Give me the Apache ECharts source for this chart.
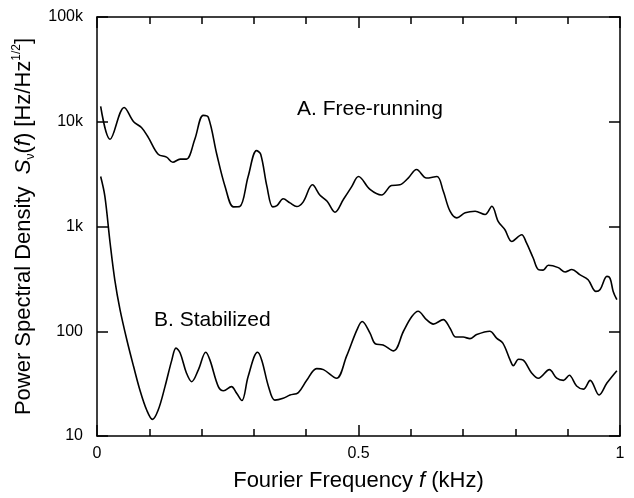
<!DOCTYPE html>
<html>
<head>
<meta charset="utf-8">
<script src="https://cdn.jsdelivr.net/npm/echarts@6/dist/echarts.min.js"></script>
<style>html,body{margin:0;padding:0;background:#fff;}#c{width:634px;height:498px;}</style>
</head>
<body>
<div id="c"></div>
<script>
var freqA = [0.007,0.025,0.052,0.070,0.085,0.098,0.117,0.133,0.145,0.159,0.171,0.187,0.203,0.213,0.229,0.245,0.261,0.273,0.289,0.305,0.313,0.325,0.336,0.344,0.356,0.369,0.382,0.394,0.412,0.426,0.440,0.455,0.471,0.487,0.500,0.522,0.544,0.563,0.579,0.595,0.611,0.630,0.650,0.662,0.675,0.688,0.704,0.723,0.742,0.755,0.767,0.780,0.793,0.812,0.821,0.834,0.844,0.853,0.863,0.882,0.895,0.908,0.923,0.939,0.954,0.962,0.975,0.981,0.987,0.994];
var psdA = [14000,6800,13700,10000,8800,7100,4900,4600,4100,4400,4400,6800,11500,11000,4900,2400,1540,1550,3000,5300,4900,2400,1540,1580,1840,1680,1550,1710,2500,2000,1740,1370,1810,2400,3000,2260,2000,2460,2500,2900,3500,2900,3000,2180,1400,1210,1350,1400,1300,1560,1120,930,720,835,700,500,388,383,427,405,368,388,347,310,240,250,334,320,240,200];
var freqB = [0.007,0.015,0.025,0.034,0.044,0.057,0.070,0.082,0.095,0.106,0.117,0.130,0.143,0.151,0.159,0.171,0.181,0.194,0.208,0.216,0.232,0.242,0.257,0.267,0.277,0.289,0.307,0.315,0.328,0.340,0.356,0.369,0.385,0.401,0.420,0.433,0.458,0.477,0.497,0.507,0.522,0.532,0.547,0.567,0.586,0.602,0.614,0.630,0.643,0.662,0.675,0.686,0.700,0.713,0.726,0.751,0.764,0.776,0.790,0.796,0.806,0.815,0.831,0.844,0.865,0.879,0.892,0.903,0.917,0.930,0.943,0.960,0.975,0.994];
var psdB = [3000,1950,700,310,161,83,46,27.5,17.7,14.4,17.7,29.6,53,69,62,40,33,43,63,53,29.6,27,29.6,25.6,21.8,37,63,53,29.6,22,22.9,24.6,26,34,44,43,35.6,57.5,103,124,96,76,74,65,100,138,155,129,117,129,107,88,88,85,93,100,86,77,53,47,54,53,40,35.6,43,35.6,34,38,30,28,34,24.6,32,42];
var xTickLabels = {0: '0', 0.5: '0.5', 1: '1'};
var yTickLabels = {10: '10', 100: '100', 1000: '1k', 10000: '10k', 100000: '100k'};
var labelA = 'A. Free-running';
var labelB = 'B. Stabilized';

function pairs(xs, ys){ return xs.map(function(x,i){ return [x, ys[i]]; }); }

var FONT = 'Liberation Sans, Arial, Helvetica, sans-serif';
var chart = echarts.init(document.getElementById('c'), null, {renderer: 'canvas'});
var ax = {color: '#000', width: 1.5};
chart.setOption({
  animation: false,
  backgroundColor: '#fff',
  grid: {left: 97, right: 14, top: 17, bottom: 62, containLabel: false},
  xAxis: [{
    type: 'value', min: 0, max: 1, interval: 0.5,
    axisLine: {show: true, onZero: false, lineStyle: ax},
    axisTick: {show: true, inside: true, length: 11, lineStyle: ax},
    minorTick: {show: true, splitNumber: 5, length: 7, lineStyle: ax},
    splitLine: {show: false},
    axisLabel: {color: '#000', fontFamily: FONT, fontSize: 16, margin: 10,
      formatter: function(v){ return xTickLabels[v] !== undefined ? xTickLabels[v] : ''; }},
    name: 'Fourier Frequency {i|f} (kHz)', nameLocation: 'middle', nameGap: 34,
    nameTextStyle: {color: '#000', fontFamily: FONT, fontSize: 22,
      rich: {i: {fontStyle: 'italic', fontFamily: FONT, fontSize: 22, color: '#000'}}}
  }, {
    type: 'value', min: 0, max: 1, interval: 0.5, position: 'top',
    axisLine: {show: true, onZero: false, lineStyle: ax},
    axisTick: {show: true, inside: true, length: 11, lineStyle: ax},
    minorTick: {show: true, splitNumber: 5, length: 7, lineStyle: ax},
    splitLine: {show: false}, axisLabel: {show: false}
  }],
  yAxis: [{
    type: 'log', logBase: 10, min: 10, max: 100000,
    axisLine: {show: true, onZero: false, lineStyle: ax},
    axisTick: {show: true, inside: true, length: 11, lineStyle: ax},
    splitLine: {show: false},
    axisLabel: {color: '#000', fontFamily: FONT, fontSize: 16, margin: 14,
      formatter: function(v){ return yTickLabels[v] !== undefined ? yTickLabels[v] : ''; }},
    name: 'Power Spectral Density  {i|S}{sub|ν}({i|f}) [Hz/Hz{sup|1/2}]',
    nameLocation: 'middle', nameGap: 60, nameRotate: 90,
    nameTextStyle: {color: '#000', fontFamily: FONT, fontSize: 22, lineHeight: 26,
      rich: {
        i: {fontStyle: 'italic', fontFamily: FONT, fontSize: 22, color: '#000', lineHeight: 26},
        sub: {fontFamily: FONT, fontSize: 12, color: '#000', verticalAlign: 'bottom', lineHeight: 26},
        sup: {fontFamily: FONT, fontSize: 12, color: '#000', verticalAlign: 'top', lineHeight: 26}
      }}
  }, {
    type: 'log', logBase: 10, min: 10, max: 100000, position: 'right',
    axisLine: {show: true, onZero: false, lineStyle: ax},
    axisTick: {show: true, inside: true, length: 11, lineStyle: ax},
    splitLine: {show: false}, axisLabel: {show: false}
  }],
  graphic: [
    {type: 'text', left: 297, top: 99, style: {text: labelA, fill: '#000', font: '21px ' + FONT}},
    {type: 'text', left: 154, top: 310, style: {text: labelB, fill: '#000', font: '21px ' + FONT}}
  ],
  series: [
    {type: 'line', data: pairs(freqA, psdA), showSymbol: false, smooth: 0.35,
     lineStyle: {color: '#000', width: 1.6}, z: 3},
    {type: 'line', data: pairs(freqB, psdB), showSymbol: false, smooth: 0.35,
     lineStyle: {color: '#000', width: 1.6}, z: 3}
  ]
});
</script>
</body>
</html>
